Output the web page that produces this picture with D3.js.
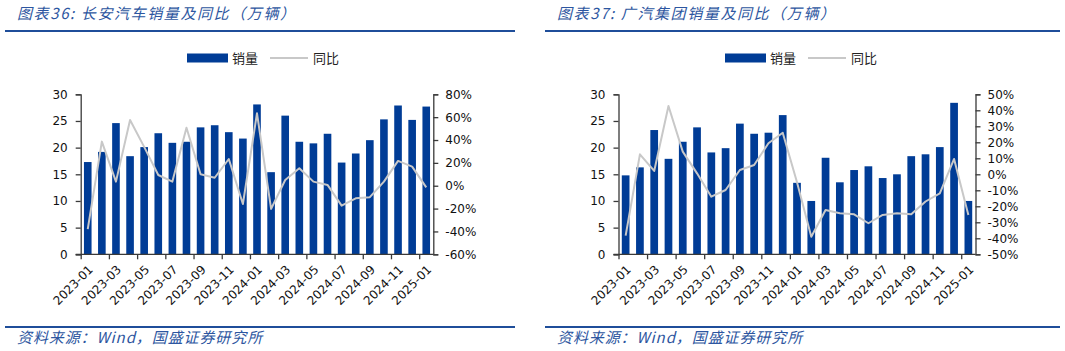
<!DOCTYPE html>
<html><head><meta charset="utf-8">
<script src="https://cdn.jsdelivr.net/npm/d3@7/dist/d3.min.js"></script>
<style>
html,body{margin:0;padding:0;background:#fff;}
svg{display:block;}
</style></head>
<body>
<svg id="c" width="1065" height="351"></svg>
<script>
const months = ["2023-01","2023-02","2023-03","2023-04","2023-05","2023-06","2023-07","2023-08","2023-09","2023-10","2023-11","2023-12",
"2024-01","2024-02","2024-03","2024-04","2024-05","2024-06","2024-07","2024-08","2024-09","2024-10","2024-11","2024-12","2025-01"];
const xTickLabels = ["2023-01","2023-03","2023-05","2023-07","2023-09","2023-11","2024-01","2024-03","2024-05","2024-07","2024-09","2024-11","2025-01"];

const changanSales = [17.3,19.2,24.6,18.4,20.1,22.7,20.9,21.1,23.8,24.2,22.9,21.7,28.1,15.4,26.0,21.1,20.8,22.6,17.2,18.9,21.4,25.3,27.9,25.2,27.7];
const changanYoY   = [-38,38.6,3.6,57.5,34,9.4,3.6,50.8,10,7,23.4,-16,63.4,-20.3,5,15.3,3.6,0.7,-17.4,-11,-10,3.6,21.7,16.7,-1.4];
const gacSales     = [14.8,16.3,23.3,17.9,21.1,23.8,19.1,19.9,24.5,22.6,22.8,26.1,13.4,10.0,18.1,13.5,15.8,16.5,14.3,15.0,18.4,18.75,20.1,28.4,10.0];
const gacYoY       = [-38.3,12.5,2.1,42.7,14.2,0.6,-14,-9.8,2.7,5.8,19.4,26,-5,-39,-22.3,-24.4,-25,-30.6,-25.4,-24.4,-25,-17,-11.9,9.6,-25.4];

const leftTicks = [0,5,10,15,20,25,30];
const changanRightTicks = [-60,-40,-20,0,20,40,60,80];
const gacRightTicks = [-50,-40,-30,-20,-10,0,10,20,30,40,50];

const legendLabels = ["销量","同比"];
const titles = ["图表36:  长安汽车销量及同比（万辆）","图表37:  广汽集团销量及同比（万辆）"];
const sourceText = "资料来源：Wind，国盛证券研究所";

const BAR = "#003c96", LINE = "#c8c8c8", AXIS = "#3a3a3a", BLUE = "#1f4e9a", TBLUE = "#2d56a0";
const svg = d3.select("#c");

function drawPanel(o){
  const g = svg.append("g");
  // title
  g.append("text").attr("x", o.px + 12).attr("y", 19)
    .attr("font-family","'Noto Sans CJK SC',sans-serif").attr("font-size",15)
    .attr("letter-spacing",1.6)
    .attr("font-style","italic").attr("fill",TBLUE).text(o.title);
  g.append("line").attr("x1",o.px).attr("x2",o.px+o.pw).attr("y1",31).attr("y2",31)
    .attr("stroke",BLUE).attr("stroke-width",2.2);
  // footer
  g.append("line").attr("x1",o.px).attr("x2",o.px+o.pw).attr("y1",327).attr("y2",327)
    .attr("stroke",BLUE).attr("stroke-width",2);
  g.append("text").attr("x", o.px + 12).attr("y", 343)
    .attr("font-family","'Noto Sans CJK SC',sans-serif").attr("font-size",15)
    .attr("letter-spacing",0.9)
    .attr("font-style","italic").attr("fill",TBLUE).text(sourceText);

  const x = d3.scaleBand().domain(months).range([o.x0,o.x1]).paddingInner(0.46).paddingOuter(0.23);
  const yL = d3.scaleLinear().domain([0,30]).range([o.y0,o.yTop]);
  const yR = d3.scaleLinear().domain(o.rDomain).range([o.y0,o.yTop]);

  // bars
  g.append("g").selectAll("rect").data(o.sales).join("rect")
    .attr("x",(d,i)=>x(months[i])).attr("width",x.bandwidth())
    .attr("y",d=>yL(d)).attr("height",d=>yL(0)-yL(d)).attr("fill",BAR);
  // line
  const line = d3.line().x((d,i)=>x(months[i])+x.bandwidth()/2).y(d=>yR(d));
  g.append("path").datum(o.yoy).attr("d",line).attr("fill","none")
    .attr("stroke",LINE).attr("stroke-width",2).attr("stroke-linejoin","round");

  // left axis
  const la = g.append("g").attr("transform",`translate(${o.x0},0)`)
    .call(d3.axisLeft(yL).tickValues(leftTicks).tickSize(5).tickPadding(8));
  // right axis
  const ra = g.append("g").attr("transform",`translate(${o.x1},0)`)
    .call(d3.axisRight(yR).tickValues(o.rTicks).tickSize(5).tickPadding(7).tickFormat(d=>d+"%"));
  // bottom axis: ticks at every second band boundary
  const xb = d3.scaleLinear().domain([0,months.length]).range([o.x0,o.x1]);
  const ba = g.append("g").attr("transform",`translate(0,${o.y0})`)
    .call(d3.axisBottom(xb).tickValues(d3.range(0,months.length,2)).tickSize(5).tickFormat(""));
  [la,ra,ba].forEach(a=>{
    a.select(".domain").attr("stroke",AXIS).attr("stroke-width",1.3);
    a.selectAll(".tick line").attr("stroke",AXIS).attr("stroke-width",1.3);
    a.selectAll("text").attr("font-family","'DejaVu Sans',sans-serif").attr("font-size",12).attr("fill","#111");
  });
  ba.select(".domain").attr("d",`M${o.x0-5},0H${o.x1}`);
  // category labels
  g.append("g").selectAll("text").data(xTickLabels).join("text")
    .attr("transform",d=>`translate(${x(d)+x.bandwidth()/2+3},${o.y0+13}) rotate(-45)`)
    .attr("text-anchor","end").attr("dy","0.35em")
    .attr("font-family","'DejaVu Sans',sans-serif").attr("font-size",12).attr("fill","#111")
    .text(d=>d);

  // legend
  const lg = g.append("g").attr("font-family","'Noto Sans CJK SC',sans-serif").attr("font-size",13).attr("fill","#222");
  lg.append("rect").attr("x",o.legX).attr("y",53.5).attr("width",41).attr("height",9).attr("fill",BAR);
  lg.append("text").attr("x",o.legX+45).attr("y",62.5).text(legendLabels[0]);
  lg.append("line").attr("x1",o.legX+83).attr("x2",o.legX+121).attr("y1",58).attr("y2",58)
    .attr("stroke",LINE).attr("stroke-width",2);
  lg.append("text").attr("x",o.legX+126).attr("y",62.5).text(legendLabels[1]);
}

drawPanel({title:titles[0], px:5, pw:510, x0:80.7, x1:433.3, y0:254.3, yTop:94.3,
  rDomain:[-60,80], rTicks:changanRightTicks, sales:changanSales, yoy:changanYoY, legX:187});
drawPanel({title:titles[1], px:545, pw:515, x0:618.5, x1:975.5, y0:254.3, yTop:94.3,
  rDomain:[-50,50], rTicks:gacRightTicks, sales:gacSales, yoy:gacYoY, legX:725});
</script>
</body></html>
